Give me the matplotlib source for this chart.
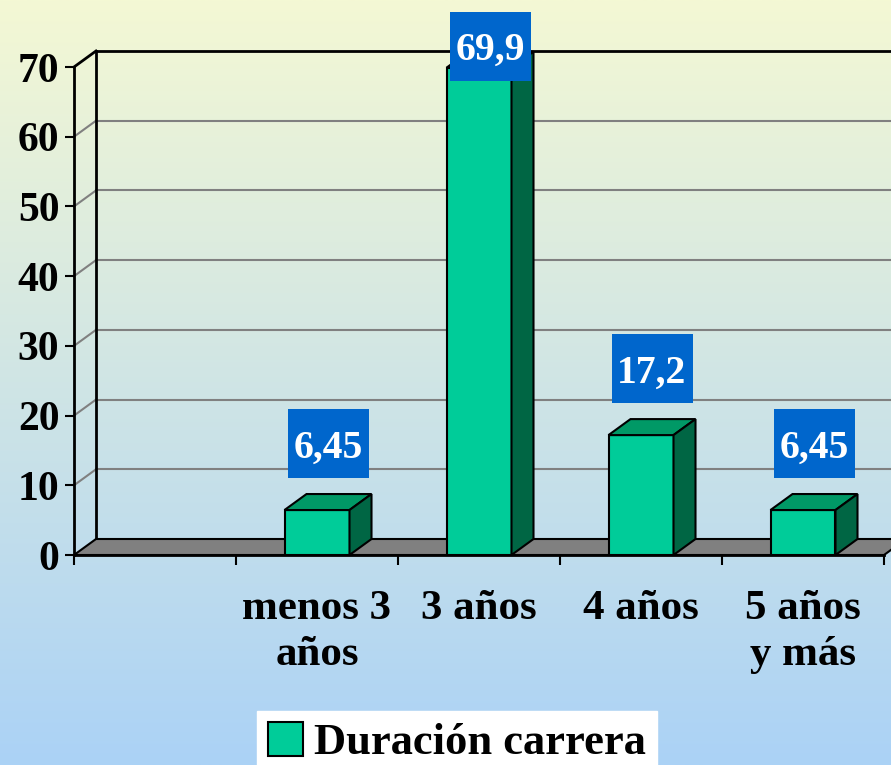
import numpy as np
import matplotlib
matplotlib.use("Agg")
import matplotlib.pyplot as plt
from matplotlib.patches import Polygon, Rectangle, Patch

plt.rcParams['font.family'] = ['Liberation Serif', 'DejaVu Serif']
plt.rcParams['font.weight'] = 'bold'

# data
categories = ['', 'menos 3\naños', '3 años', '4 años', '5 años\ny más']
values = [0, 6.45, 69.9, 17.2, 6.45]
value_labels = ['', '6,45', '69,9', '17,2', '6,45']
yticks = [0, 10, 20, 30, 40, 50, 60, 70]
series_name = 'Duración carrera'

front_col = '#00CC99'
top_col = '#009966'
side_col = '#006644'

fig = plt.figure(figsize=(8.91, 7.65), dpi=100)

# background gradient
bg = fig.add_axes([0, 0, 1, 1], zorder=-1)
top_rgb = np.array([244, 248, 212]) / 255
bot_rgb = np.array([171, 210, 246]) / 255
t = np.linspace(0, 1, 256)[:, None]
grad = (top_rgb * (1 - t) + bot_rgb * t)[:, None, :]
bg.imshow(grad, aspect='auto', extent=[0, 1, 0, 1])
bg.axis('off')

ax = fig.add_axes([74 / 891, 210 / 765, 810 / 891, 488 / 765])
ax.set_facecolor('none')
ax.set_xlim(0, len(categories))
ax.set_ylim(0, 70)

# depth offset of the pseudo 3d box
px_y = 488 / 70
dx = 22 / 162
dy = 16 / px_y
n = len(categories)

# walls and gridlines
for v in yticks[1:]:
    c = 'black' if v == yticks[-1] else '#808080'
    lw = 2 if v == yticks[-1] else 1.5
    ax.plot([0, dx], [v, v + dy], color=c, lw=lw, clip_on=False, zorder=0.5)
    ax.plot([dx, n + dx], [v + dy, v + dy], color=c, lw=lw, clip_on=False, zorder=0.5)
ax.plot([dx, dx], [dy, yticks[-1] + dy], color='black', lw=2, clip_on=False, zorder=0.6)

# floor
floor = Polygon([(0, 0), (n, 0), (n + dx, dy), (dx, dy)], closed=True,
                facecolor='#808080', edgecolor='black', lw=1.5, clip_on=False, zorder=1)
ax.add_patch(floor)

# bars
w = 65 / 162
box_w, box_h = 81 / 162, 69 / px_y
for i, v in enumerate(values):
    if v <= 0:
        continue
    c = i + 0.5
    x0, x1 = c - w / 2, c + w / 2
    ax.add_patch(Rectangle((x0, 0), w, v, facecolor=front_col, edgecolor='black',
                           lw=1.5, zorder=3, clip_on=False))
    ax.add_patch(Polygon([(x0, v), (x1, v), (x1 + dx, v + dy), (x0 + dx, v + dy)],
                         closed=True, facecolor=top_col, edgecolor='black', lw=1.5,
                         zorder=3, clip_on=False))
    ax.add_patch(Polygon([(x1, 0), (x1 + dx, dy), (x1 + dx, v + dy), (x1, v)],
                         closed=True, facecolor=side_col, edgecolor='black', lw=1.5,
                         zorder=3, clip_on=False))
    # value label in a blue box
    lx, ly = c + dx / 2, min(v + 9.5, 73)
    ax.add_patch(Rectangle((lx - box_w / 2, ly - box_h / 2), box_w, box_h,
                           facecolor='#0066CC', edgecolor='none', zorder=5, clip_on=False))
    ax.text(lx, ly, value_labels[i], ha='center', va='center_baseline', color='white',
            fontsize=28.5, fontweight='bold', zorder=6)

# axes styling
for s in ['top', 'right']:
    ax.spines[s].set_visible(False)
ax.spines['left'].set_linewidth(2)
ax.spines['bottom'].set_linewidth(2)
ax.spines['left'].set_zorder(4)
ax.spines['bottom'].set_zorder(4)
ax.set_yticks(yticks)
ax.tick_params(axis='y', direction='out', length=6.5, width=1.5, pad=4, labelsize=30)
ax.set_xticks(np.arange(n + 1))
ax.set_xticklabels([])
ax.tick_params(axis='x', which='major', direction='out', length=7.2, width=1.5)
ax.set_xticks(np.arange(n) + 0.5, minor=True)
ax.set_xticklabels(categories, minor=True, fontsize=31, linespacing=1.3)
ax.tick_params(axis='x', which='minor', length=0, pad=25)

fig.legend(handles=[Patch(facecolor=front_col, edgecolor='black', lw=1.5)],
           labels=[series_name], loc='lower center', bbox_to_anchor=(0.513, -0.012),
           prop={'size': 32, 'weight': 'bold'}, frameon=True, fancybox=False,
           edgecolor='white', facecolor='white', framealpha=1, borderpad=0.25,
           handlelength=0.8, handleheight=0.8, handletextpad=0.25, borderaxespad=0)

fig.savefig('out.png', dpi=100)
